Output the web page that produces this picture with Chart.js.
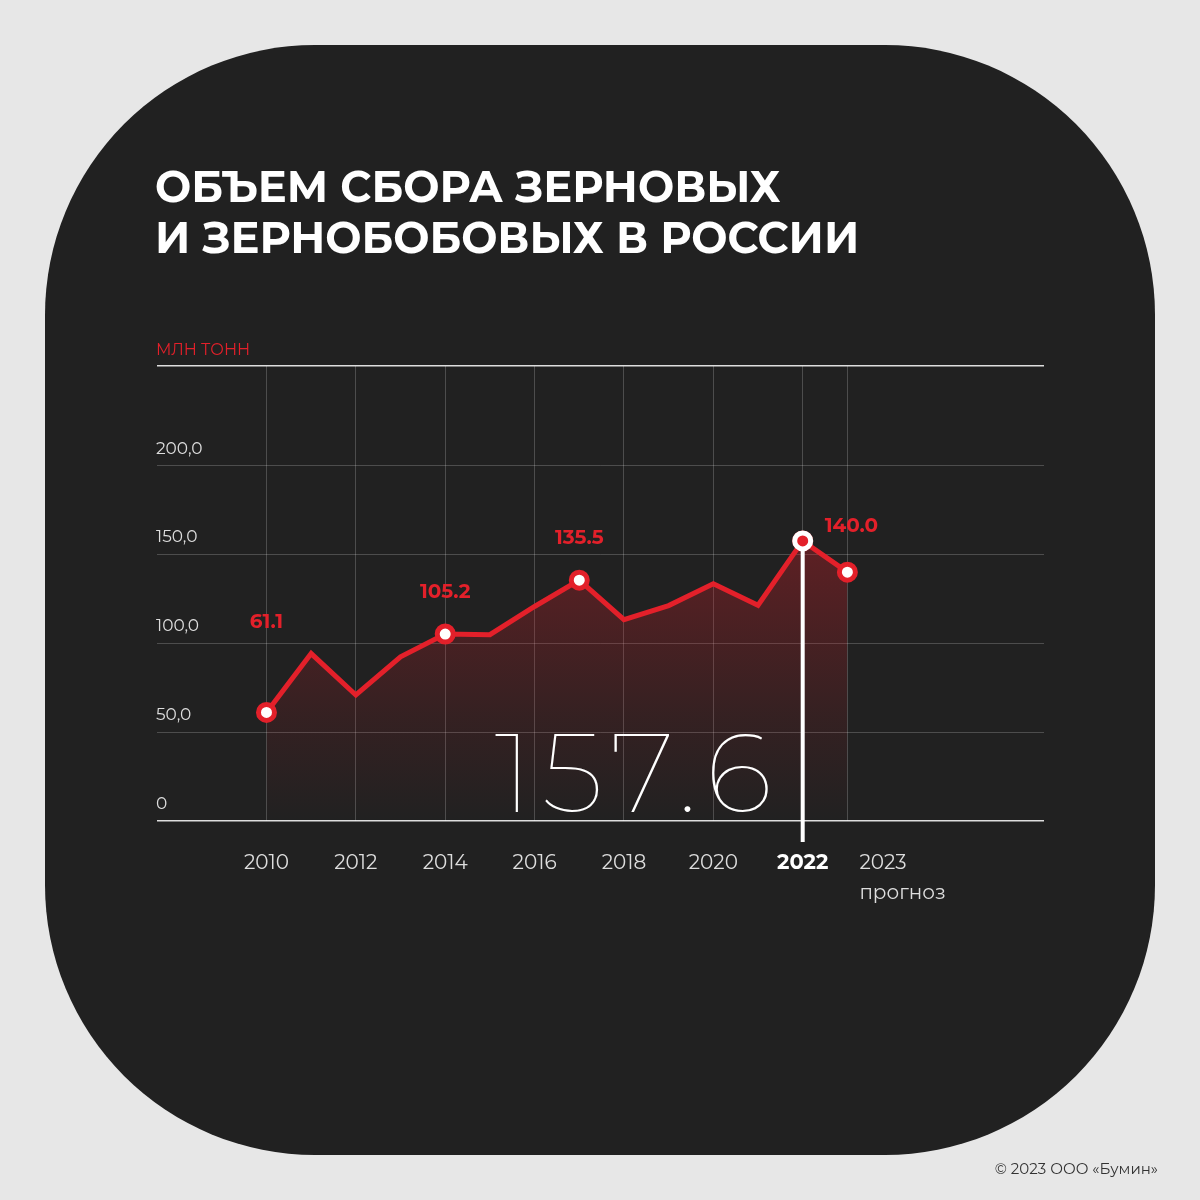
<!DOCTYPE html>
<html><head><meta charset="utf-8">
<script src="https://cdn.jsdelivr.net/npm/chart.js@4"></script>
<style>
html,body{margin:0;padding:0;background:#e7e7e7;}
#wrap{width:1200px;height:1200px;position:relative;}
</style></head>
<body><div id="wrap"><canvas id="c" width="1200" height="1200"></canvas></div>
<script>
const years = [2010, 2011, 2012, 2013, 2014, 2015, 2016, 2017, 2018, 2019, 2020, 2021, 2022, 2023]
const harvest = [61.1, 94.2, 70.9, 92.4, 105.2, 104.8, 120.7, 135.5, 113.3, 121.2, 133.5, 121.4, 157.6, 140.0]
const yTicks = [0, 50, 100, 150, 200]
const yTickLabels = ["0", "50,0", "100,0", "150,0", "200,0"]
const xTicks = [2010, 2012, 2014, 2016, 2018, 2020, 2022, 2023]
const markedYears = [2010, 2014, 2017, 2022, 2023]
const labelledYears = [2010, 2014, 2017, 2023]
const labelOffsets = [84, 36, 36, 40]
const highlightYear = 2022

const FONT = "Montserrat, Inter, 'Noto Sans', sans-serif"

// background card + title + custom labels
const decor = {
  id: "decor",
  beforeDraw(chart) {
    const ctx = chart.ctx
    ctx.save()
    ctx.fillStyle = "#e7e7e7"
    ctx.fillRect(0, 0, 1200, 1200)
    ctx.fillStyle = "#212121"
    ctx.beginPath()
    ctx.roundRect(45, 45, 1110, 1110, 270)
    ctx.fill()
    ctx.fillStyle = "#fff"
    ctx.font = "bold 43px " + FONT
    ctx.textBaseline = "alphabetic"
    ctx.fillText("ОБЪЕМ СБОРА ЗЕРНОВЫХ", 155, 202)
    ctx.fillText("И ЗЕРНОБОБОВЫХ В РОССИИ", 155, 253)
    ctx.fillStyle = "#e3202a"
    ctx.font = "16px " + FONT
    ctx.fillText("МЛН ТОНН", 156, 355)
    ctx.fillStyle = "#333"
    ctx.font = "15px " + FONT
    ctx.textAlign = "right"
    ctx.fillText("© 2023 ООО «Бумин»", 1158, 1174)
    ctx.restore()
  },
  afterDatasetsDraw(chart) {
    const ctx = chart.ctx
    const x = chart.scales.x, y = chart.scales.y
    ctx.save()
    ctx.fillStyle = "#ddd"
    ctx.font = "17px " + FONT
    ctx.textAlign = "left"
    yTicks.forEach((v, i) => ctx.fillText(yTickLabels[i], 156, y.getPixelForValue(v) - 12))
    ctx.textAlign = "center"
    xTicks.forEach(v => {
      ctx.font = (v === highlightYear ? "bold 21px " : "20px ") + FONT
      ctx.fillStyle = v === highlightYear ? "#fff" : "#ddd"
      const px = x.getPixelForValue(v)
      if (v === 2023) {
        ctx.textAlign = "left"
        ctx.fillText("2023", px + 12, 869)
        ctx.fillText("прогноз", px + 12, 899)
        ctx.textAlign = "center"
      } else {
        ctx.fillText(String(v), px, 869)
      }
    })
    const hi = years.indexOf(highlightYear)
    const hx = x.getPixelForValue(highlightYear), hy = y.getPixelForValue(harvest[hi])
    ctx.strokeStyle = "#fff"
    ctx.lineWidth = 4
    ctx.beginPath(); ctx.moveTo(hx, hy); ctx.lineTo(hx, 842); ctx.stroke()
    // redraw the highlighted point on top of the line
    ctx.fillStyle = "#e3202a"; ctx.strokeStyle = "#fff"; ctx.lineWidth = 5
    ctx.beginPath(); ctx.arc(hx, hy, 8, 0, Math.PI * 2); ctx.fill(); ctx.stroke()
    ctx.fillStyle = "#fff"
    ctx.font = "100 112px " + FONT
    ctx.letterSpacing = "9px"
    ctx.textAlign = "right"
    ctx.fillText(harvest[hi].toFixed(1), hx - 22, 812)
    ctx.letterSpacing = "0px"
    ctx.fillStyle = "#e3202a"
    ctx.font = "bold 20px " + FONT
    ctx.textAlign = "center"
    labelledYears.forEach((yr, k) => {
      const i = years.indexOf(yr)
      let px = x.getPixelForValue(yr)
      if (yr === 2023) px += 4
      ctx.fillText(harvest[i].toFixed(1), px, y.getPixelForValue(harvest[i]) - labelOffsets[k])
    })
    ctx.restore()
  }
}

new Chart(document.getElementById("c"), {
  type: "line",
  data: {
    datasets: [{
      data: years.map((yr, i) => ({ x: yr, y: harvest[i] })),
      borderColor: "#e3202a",
      borderWidth: 5,
      tension: 0,
      fill: "origin",
      backgroundColor: (c) => {
        const a = c.chart.chartArea
        if (!a) return "rgba(227,32,42,0.2)"
        const g = c.chart.ctx.createLinearGradient(0, c.chart.scales.y.getPixelForValue(150), 0, a.bottom)
        g.addColorStop(0, "rgba(200,30,40,0.35)")
        g.addColorStop(0.6, "rgba(200,30,40,0.12)")
        g.addColorStop(1, "rgba(200,30,40,0.0)")
        return g
      },
      pointRadius: years.map(yr => markedYears.includes(yr) ? 8 : 0),
      pointBorderWidth: 5,
      pointBackgroundColor: "#fff",
      pointBorderColor: "#e3202a"
    }]
  },
  options: {
    responsive: false,
    animation: false,
    layout: { padding: { left: 157, right: 156, top: 366, bottom: 379 } },
    plugins: { legend: { display: false }, tooltip: { enabled: false } },
    scales: {
      x: {
        type: "linear", min: 2007.55, max: 2027.4,
        afterBuildTicks: s => { s.ticks = xTicks.map(v => ({ value: v })) },
        ticks: { display: false },
        grid: { color: "rgba(255,255,255,0.2)", drawTicks: false },
        border: { display: false }
      },
      y: {
        min: 0, max: 256,
        afterBuildTicks: s => { s.ticks = yTicks.concat([256]).map(v => ({ value: v })) },
        ticks: { display: false },
        grid: { color: c => (c.tick && (c.tick.value === 0 || c.tick.value === 256)) ? "rgba(255,255,255,0.85)" : "rgba(255,255,255,0.2)", drawTicks: false, lineWidth: c => (c.tick && (c.tick.value === 0 || c.tick.value === 256)) ? 1.5 : 1 },
        border: { display: false }
      }
    }
  },
  plugins: [decor]
})
</script></body></html>
